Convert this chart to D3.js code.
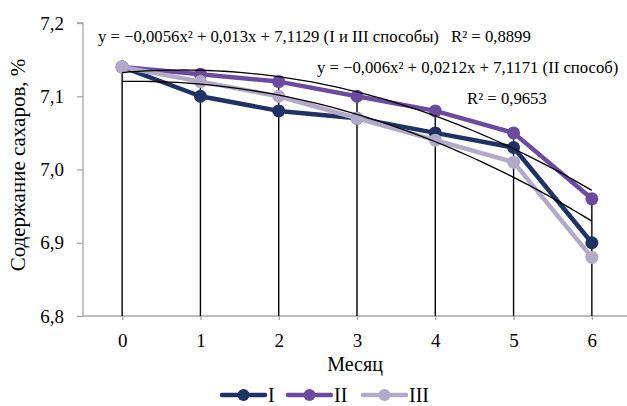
<!DOCTYPE html>
<html>
<head>
    <meta charset="utf-8">
    <script src="https://d3js.org/d3.v7.min.js"></script>
</head>
<body style="margin:0">
    <svg width="627" height="406" font-family="Liberation Serif"></svg>
    <script>
        // data
        var months = [0, 1, 2, 3, 4, 5, 6];
        var seriesNames = ["I", "II", "III"];
        var valuesI = [7.14, 7.10, 7.08, 7.07, 7.05, 7.03, 6.90];
        var valuesII = [7.14, 7.13, 7.12, 7.10, 7.08, 7.05, 6.96];
        var valuesIII = [7.14, 7.12, 7.10, 7.07, 7.04, 7.01, 6.88];
        var colors = ["#1f3264", "#6a4ba0", "#b3aac9"];
        var yTicks = [6.8, 6.9, 7.0, 7.1, 7.2];
        // trend lines coefficients (x counted 1..7 like excel)
        var trendI_III = [-0.0056, 0.013, 7.1129];
        var trendII = [-0.006, 0.0212, 7.1171];

        var serif = "Liberation Serif";
        var svg = d3.select("svg");
        var mLeft = 83, mRight = 631, mTop = 23, mBottom = 316;

        var x = d3.scalePoint().domain(months).range([mLeft, mRight]).padding(0.5);
        var y = d3.scaleLinear().domain([6.8, 7.2]).range([mBottom, mTop]);

        // y axis
        var yAxis = svg.append("g")
            .attr("transform", "translate(" + mLeft + ",0)")
            .call(d3.axisLeft(y).tickValues(yTicks).tickSize(6).tickPadding(13)
                .tickFormat(function (d) { return d3.format(".1f")(d).replace(".", ","); }));
        yAxis.attr("font-family", serif).attr("font-size", 19);
        yAxis.select(".domain").attr("stroke", "#a6a6a6").attr("stroke-width", 1.3).attr("d", "M-6," + mTop + "H0V" + mBottom);
        yAxis.selectAll(".tick line").attr("stroke", "#a6a6a6").attr("stroke-width", 1.3);

        // x axis
        var xAxis = svg.append("g")
            .attr("transform", "translate(0," + mBottom + ")")
            .call(d3.axisBottom(x).tickSize(4).tickPadding(14));
        xAxis.attr("font-family", serif).attr("font-size", 19);
        xAxis.select(".domain").attr("stroke", "#a6a6a6").attr("stroke-width", 1.3).attr("d", "M" + mLeft + ",0H627");
        xAxis.selectAll(".tick line").attr("stroke", "#a6a6a6").attr("stroke-width", 1.3);
        svg.selectAll(".tick text").attr("fill", "#000");

        var all = [valuesI, valuesII, valuesIII];

        // drop lines up to highest point
        svg.append("g").selectAll("line")
            .data(months)
            .enter().append("line")
            .attr("x1", function (d) { return x(d); })
            .attr("x2", function (d) { return x(d); })
            .attr("y1", y(6.8))
            .attr("y2", function (d, i) { return y(d3.max(all, function (s) { return s[i]; })); })
            .attr("stroke", "#000")
            .attr("stroke-width", 1.4);

        var line = d3.line()
            .x(function (d, i) { return x(months[i]); })
            .y(function (d) { return y(d); });

        all.forEach(function (vals, k) {
            var g = svg.append("g");
            g.append("path")
                .datum(vals)
                .attr("d", line)
                .attr("fill", "none")
                .attr("stroke", colors[k])
                .attr("stroke-width", 4.5)
                .attr("stroke-linejoin", "round");
            g.selectAll("circle")
                .data(vals)
                .enter().append("circle")
                .attr("cx", function (d, i) { return x(months[i]); })
                .attr("cy", function (d) { return y(d); })
                .attr("r", 6.5)
                .attr("fill", colors[k]);
        });

        // polynomial trend lines
        var trendX = d3.range(0, 6.01, 0.1);
        var trendLine = d3.line()
            .x(function (d) { return x(0) + (x(1) - x(0)) * d[0]; })
            .y(function (d) { return y(d[1]); });
        [trendI_III, trendII].forEach(function (c) {
            svg.append("path")
                .datum(trendX.map(function (t) {
                    var n = t + 1;
                    return [t, c[0] * n * n + c[1] * n + c[2]];
                }))
                .attr("d", trendLine)
                .attr("fill", "none")
                .attr("stroke", "#000")
                .attr("stroke-width", 1.3);
        });

        // equations
        var eqSize = 16.7;
        svg.append("text").attr("x", 98).attr("y", 42).attr("font-size", eqSize)
            .text("y = −0,0056x² + 0,013x + 7,1129 (I и III способы)");
        svg.append("text").attr("x", 451).attr("y", 42).attr("font-size", eqSize)
            .text("R² = 0,8899");
        svg.append("text").attr("x", 317).attr("y", 73).attr("font-size", eqSize)
            .text("y = −0,006x² + 0,0212x + 7,1171 (II способ)");
        svg.append("text").attr("x", 467).attr("y", 104).attr("font-size", eqSize)
            .text("R² = 0,9653");

        // axis titles
        svg.append("text")
            .attr("transform", "translate(25,165) rotate(-90)")
            .attr("text-anchor", "middle")
            .attr("font-size", 21)
            .text("Содержание сахаров, %");
        svg.append("text")
            .attr("x", 355).attr("y", 371)
            .attr("text-anchor", "middle")
            .attr("font-size", 20)
            .text("Месяц");

        // legend
        var legX = [222, 288, 363];
        var leg = svg.append("g");
        seriesNames.forEach(function (name, k) {
            var lg = leg.append("g").attr("transform", "translate(" + legX[k] + ",395)");
            lg.append("line").attr("x1", 0).attr("x2", 43).attr("y1", 0).attr("y2", 0)
                .attr("stroke", colors[k]).attr("stroke-width", 4.5).attr("stroke-linecap", "round");
            lg.append("circle").attr("cx", 21.5).attr("cy", 0).attr("r", 6).attr("fill", colors[k]);
            lg.append("text").attr("x", 46).attr("y", 7).attr("font-size", 20).text(name);
        });

        svg.selectAll("text").attr("font-family", serif).style("font-family", serif);
    </script>
</body>
</html>
